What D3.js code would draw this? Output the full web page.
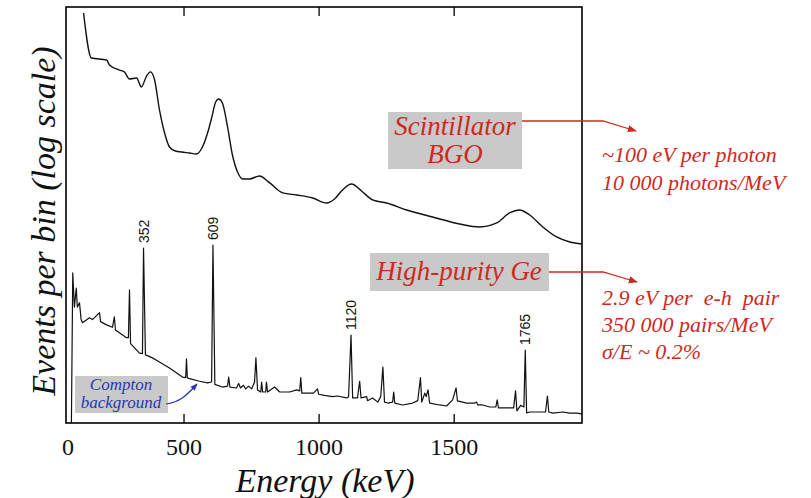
<!DOCTYPE html>
<html><head><meta charset="utf-8"><script src="https://cdn.jsdelivr.net/npm/d3@7"></script></head>
<body style="margin:0">
<script>
// energy (keV), events per bin
const bgoSpectrum = [
  [130, 820000], [159, 184000], [215, 172000], [226, 146000], [263, 123000], [281, 116000],
  [300, 91600], [326, 94700], [344, 70200], [363, 101000], [378, 116000], [393, 88600],
  [411, 32700], [430, 15200], [448, 9570], [470, 8380], [493, 8110], [522, 7840], [548, 7590],
  [570, 9570], [589, 15200], [604, 25100], [619, 42700], [630, 47100], [644, 41300],
  [663, 18600], [681, 7340], [700, 4170], [719, 3310], [744, 3310], [781, 3650], [819, 2900],
  [867, 2080], [919, 1940], [978, 1760], [1030, 1490], [1059, 1700], [1085, 2220],
  [1122, 2800], [1159, 2220], [1200, 1650], [1252, 1490], [1326, 1180], [1422, 936],
  [1522, 742], [1596, 672], [1659, 767], [1707, 1070], [1744, 1180], [1781, 1000],
  [1830, 672], [1881, 482], [1930, 408], [1974, 382]
];

const geSpectrum = [
  [85, 1], [90, 146], [96, 47], [103, 88], [107, 47], [115, 54], [121, 31], [126, 28],
  [152, 33], [163, 31], [189, 39], [193, 29], [215, 26], [237, 24], [244, 34], [248, 22],
  [289, 17], [296, 17], [300, 83], [304, 14], [337, 10.2], [348, 10], [352, 334], [359, 9.6],
  [385, 8.7], [411, 7.6], [448, 6.2], [496, 4.6], [508, 4.5], [511, 8.4], [514, 4.5], [519, 4.4],
  [559, 4.0], [589, 3.8], [604, 3.9], [609, 369], [616, 3.6], [644, 3.3], [663, 3.4], [667, 4.6],
  [672, 3.3], [696, 3.2], [704, 3.7], [711, 3.2], [722, 3.5], [730, 3.1], [741, 3.4], [752, 3.1],
  [763, 3.9], [768, 8.7], [774, 3.0], [786, 2.8], [789, 3.9], [793, 2.8], [804, 2.8], [807, 3.9],
  [811, 2.8], [837, 3.3], [856, 2.8], [893, 2.8], [919, 3.0], [930, 2.9], [934, 4.5], [938, 2.7],
  [967, 2.7], [981, 2.7], [996, 3.1], [1000, 2.6], [1022, 2.5], [1052, 2.4], [1070, 2.45],
  [1104, 2.3], [1111, 2.4], [1120, 18.6], [1126, 2.3], [1144, 2.3], [1152, 4.0], [1157, 2.3],
  [1178, 2.4], [1181, 2.1], [1200, 2.3], [1219, 2.0], [1230, 2.4], [1238, 6.4], [1244, 2.0],
  [1256, 1.94], [1274, 2.0], [1278, 2.8], [1282, 1.94], [1311, 1.82], [1348, 1.94], [1367, 2.1],
  [1377, 4.5], [1382, 2.0], [1393, 2.7], [1398, 2.4], [1405, 3.0], [1411, 1.94], [1448, 1.82],
  [1474, 1.76], [1496, 2.15], [1509, 3.2], [1514, 2.08], [1533, 2.0], [1548, 1.94], [1578, 1.94],
  [1585, 2.0], [1589, 1.82], [1607, 1.82], [1633, 1.7], [1656, 1.7], [1661, 2.15], [1666, 1.65],
  [1689, 1.65], [1722, 1.65], [1729, 2.9], [1734, 1.5], [1748, 1.8], [1760, 1.7], [1765, 11.3],
  [1770, 1.4], [1781, 1.44], [1819, 1.44], [1840, 1.44], [1847, 2.45], [1852, 1.44], [1867, 1.39],
  [1904, 1.44], [1930, 1.39], [1956, 1.39], [1974, 1.35]
];

const peakLabels = [352, 609, 1120, 1765];
const xTicks = [500, 1000, 1500];
const xStartLabel = "0";
const bgoNotes = ["~100 eV per photon", "10 000 photons/MeV"];
const geNotes = ["2.9 eV per  e-h  pair", "350 000 pairs/MeV", "σ/E ~ 0.2%"];

const width = 811, height = 498;
const frameL = 66, frameR = 582, frameT = 7, frameB = 423;
const red = "#d0281e", blue = "#2536b8", boxGrey = "#c9c9c9";

const svg = d3.select("body").append("svg")
  .attr("width", width).attr("height", height)
  .style("font-family", `"Liberation Serif"`);

// every label gets its font through style(), same way for all
function label(g, txt, px, py, size, color, opts = {}) {
  return g.append("text").attr("x", px).attr("y", py)
    .attr("text-anchor", opts.anchor || "middle")
    .style("font-family", `"${opts.family || "Liberation Serif"}"`)
    .style("font-style", opts.upright ? "normal" : "italic")
    .style("font-size", size + "px")
    .attr("fill", color).text(txt);
}

const defs = svg.append("defs");
defs.append("clipPath").attr("id", "plotClip")
  .append("rect").attr("x", frameL).attr("y", frameT)
  .attr("width", frameR - frameL).attr("height", frameB - frameT);
defs.append("marker").attr("id", "redHead")
  .attr("viewBox", "0 0 10 10").attr("refX", 9).attr("refY", 5)
  .attr("markerWidth", 7).attr("markerHeight", 7).attr("orient", "auto")
  .append("path").attr("d", "M0,1 L10,5 L0,9 z").attr("fill", red);
defs.append("marker").attr("id", "blueHead")
  .attr("viewBox", "0 0 10 10").attr("refX", 9).attr("refY", 5)
  .attr("markerWidth", 6).attr("markerHeight", 6).attr("orient", "auto")
  .append("path").attr("d", "M0,1 L10,5 L0,9 z").attr("fill", blue);

const x = d3.scaleLinear().domain([65, 1975]).range([frameL, frameR]);
const y = d3.scaleLog().domain([1, 1e6]).range([frameB, frameT]);

// ticks point inward, labels below
const xAxis = svg.append("g").attr("transform", `translate(0,${frameB})`)
  .call(d3.axisBottom(x).tickValues(xTicks).tickFormat(d3.format("d"))
    .tickSizeInner(-9).tickSizeOuter(0).tickPadding(15));
xAxis.attr("font-family", null).attr("font-size", null);
xAxis.select(".domain").remove();
xAxis.selectAll(".tick line").attr("stroke", "#000").attr("stroke-width", 1.3);
xAxis.selectAll(".tick text").style("font-family", `"Liberation Serif"`)
  .style("font-size", "24px").attr("fill", "#111");
label(xAxis, xStartLabel, frameL + 2, 15, 24, "#111", { upright: true }).attr("dy", "0.71em");

const xTop = svg.append("g").attr("transform", `translate(0,${frameT})`)
  .call(d3.axisTop(x).tickValues(xTicks).tickSizeInner(-9).tickSizeOuter(0).tickFormat(""));
xTop.attr("font-family", null);
xTop.select(".domain").remove();
xTop.selectAll(".tick line").attr("stroke", "#000").attr("stroke-width", 1.3);

const plot = svg.append("g").attr("clip-path", "url(#plotClip)");

plot.append("path").datum(bgoSpectrum)
  .attr("fill", "none").attr("stroke", "#111").attr("stroke-width", 1.4)
  .attr("d", d3.line().x(d => x(d[0])).y(d => y(d[1])).curve(d3.curveMonotoneX));

plot.append("path").datum(geSpectrum)
  .attr("fill", "none").attr("stroke", "#111").attr("stroke-width", 1.2)
  .attr("stroke-linejoin", "round")
  .attr("d", d3.line().x(d => x(d[0])).y(d => y(d[1])));

svg.append("rect").attr("x", frameL).attr("y", frameT)
  .attr("width", frameR - frameL).attr("height", frameB - frameT)
  .attr("fill", "none").attr("stroke", "#000").attr("stroke-width", 1.6);

// peak energies above the Ge lines
peakLabels.forEach(e => {
  const c = geSpectrum.find(d => d[0] === e)[1];
  const g = svg.append("g").attr("transform", `translate(${x(e) + 5},${y(c) - 5}) rotate(-90)`);
  label(g, String(e), 0, 0, 14, "#111", { anchor: "start", upright: true, family: "Liberation Sans" });
});

// axis titles
label(svg, "Energy (keV)", 325, 492, 34, "#111");
label(svg.append("g").attr("transform", "translate(55,221) rotate(-90)"),
  "Events per bin (log scale)", 0, 0, 34, "#111");

// Scintillator / BGO box
svg.append("rect").attr("x", 388).attr("y", 112).attr("width", 134).attr("height", 57).attr("fill", boxGrey);
label(svg, "Scintillator", 455, 135, 27, red);
label(svg, "BGO", 455, 163, 27, red);
svg.append("path").attr("d", "M522,121 L603,121 L636,131")
  .attr("fill", "none").attr("stroke", red).attr("stroke-width", 1.3).attr("marker-end", "url(#redHead)");
bgoNotes.forEach((t, i) => label(svg, t, 602, 162 + i * 28, 22, red, { anchor: "start" }));

// High-purity Ge box
svg.append("rect").attr("x", 370).attr("y", 253).attr("width", 179).attr("height", 38).attr("fill", boxGrey);
label(svg, "High-purity Ge", 459, 280, 27, red);
svg.append("path").attr("d", "M549,272 L603,272 L637,282")
  .attr("fill", "none").attr("stroke", red).attr("stroke-width", 1.3).attr("marker-end", "url(#redHead)");
geNotes.forEach((t, i) => label(svg, t, 602, 305 + i * 27, 22, red, { anchor: "start" }).style("white-space", "pre"));

// Compton background label
svg.append("rect").attr("x", 75).attr("y", 376).attr("width", 93).attr("height", 37).attr("fill", boxGrey);
label(svg, "Compton", 121, 390, 17, blue);
label(svg, "background", 121, 408, 17, blue);
svg.append("path").attr("d", "M166,404 C180,402 186,396 197,384")
  .attr("fill", "none").attr("stroke", blue).attr("stroke-width", 1.2).attr("marker-end", "url(#blueHead)");
</script>
</body></html>
